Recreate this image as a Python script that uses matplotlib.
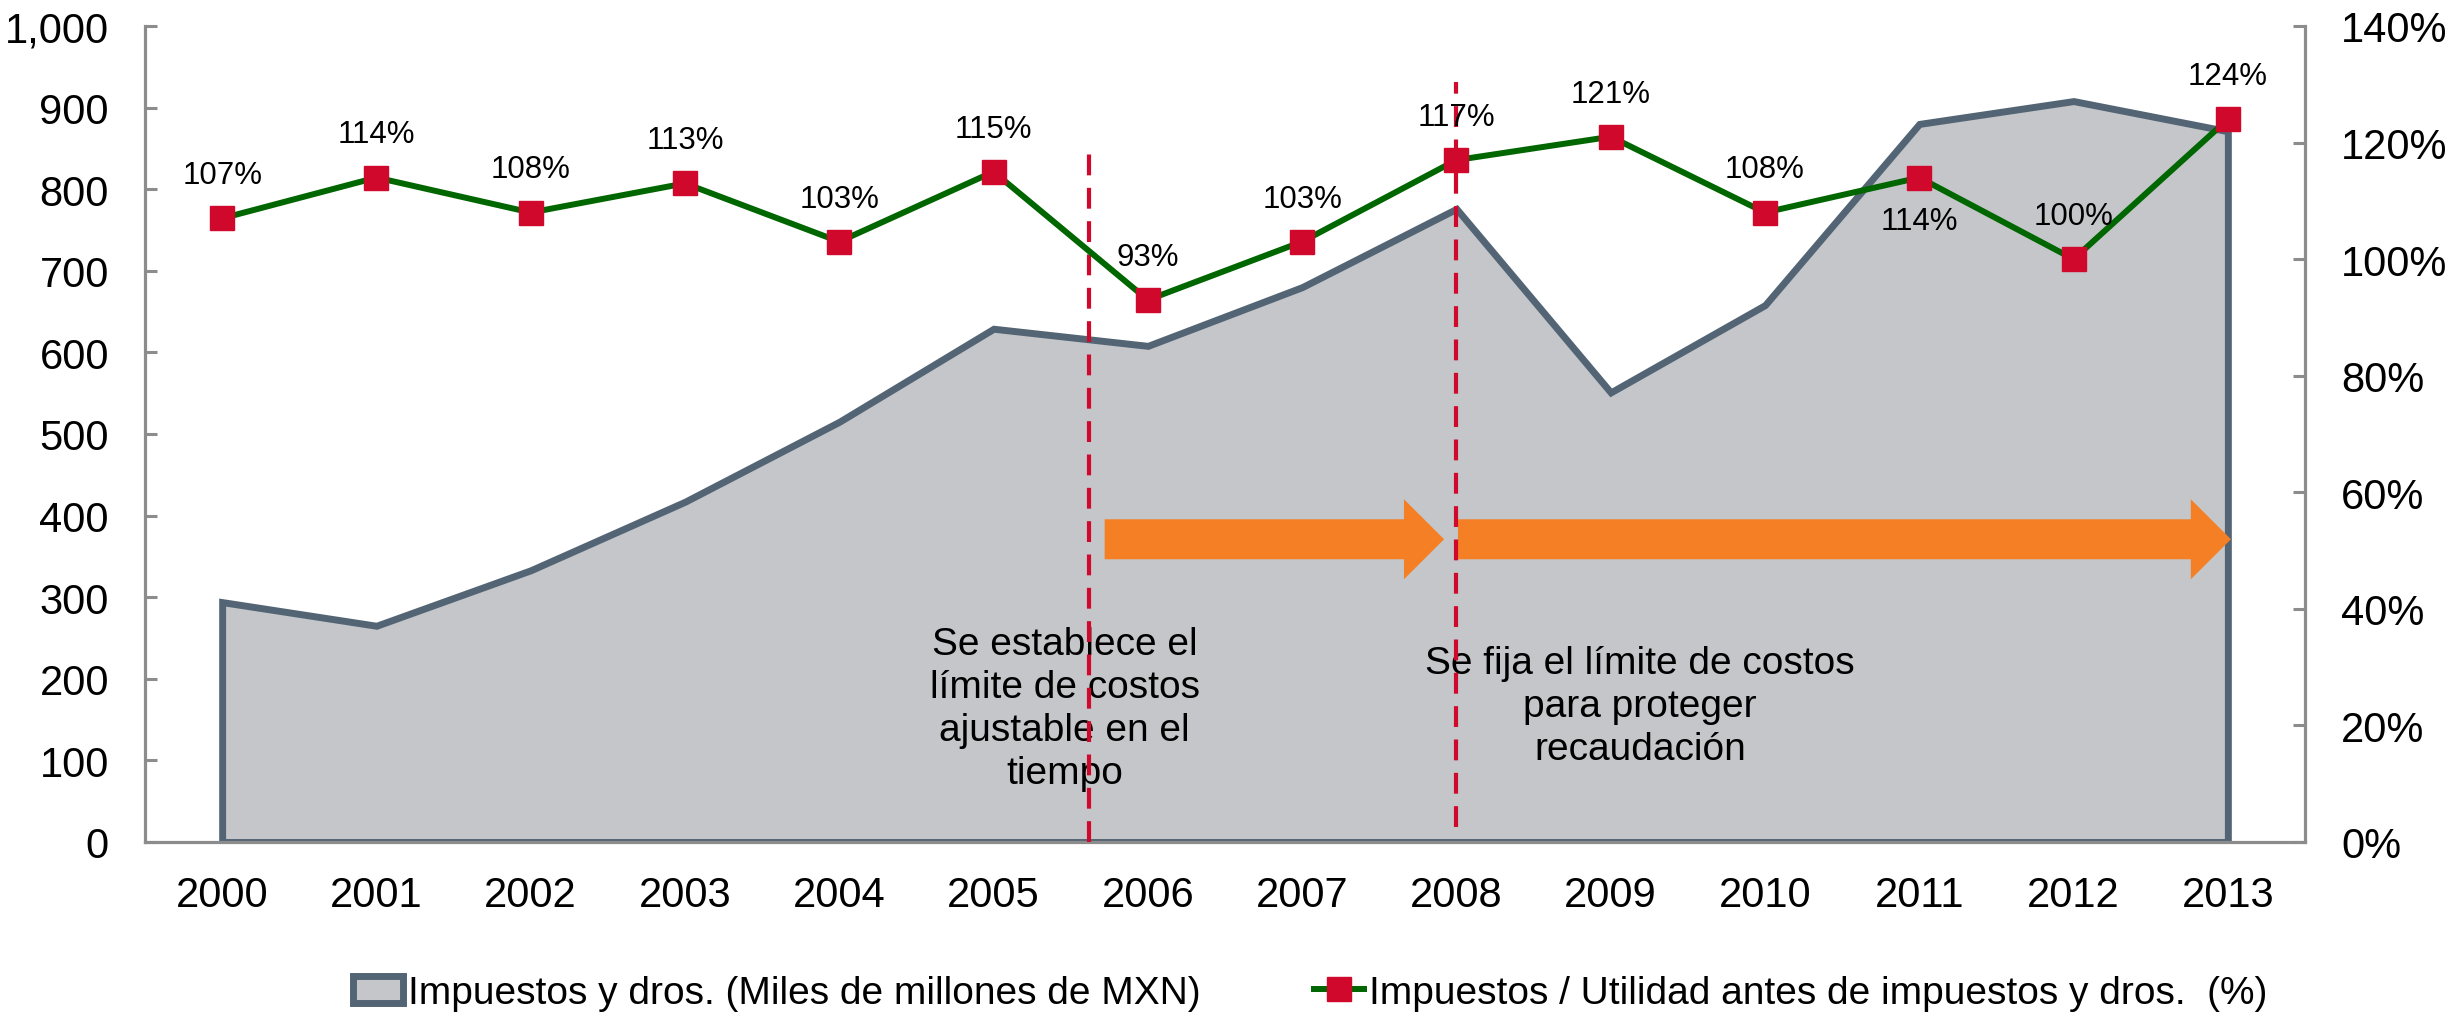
import numpy as np
import matplotlib
matplotlib.use("Agg")
import matplotlib.pyplot as plt
from matplotlib.patches import Patch, FancyArrow
from matplotlib.lines import Line2D
from matplotlib.ticker import FuncFormatter, FixedLocator

plt.rcParams["font.family"] = ["Liberation Sans", "DejaVu Sans"]

# data
years = ["2000", "2001", "2002", "2003", "2004", "2005", "2006",
         "2007", "2008", "2009", "2010", "2011", "2012", "2013"]
impuestos = [294, 265, 333, 417, 515, 629, 608, 680, 776, 551, 658, 880, 908, 871]
ratio = [107, 114, 108, 113, 103, 115, 93, 103, 117, 121, 108, 114, 100, 124]
label_below = ["2011"]

area_label = "Impuestos y dros. (Miles de millones de MXN)"
line_label = "Impuestos / Utilidad antes de impuestos y dros.  (%)"
note1 = "Se establece el\nlímite de costos\najustable en el\ntiempo"
note2 = "Se fija el límite de costos\npara proteger\nrecaudación"

fill_c = "#C4C6CA"
edge_c = "#536574"
green = "#006600"
red = "#D0092C"
orange = "#F47F24"
axis_c = "#8C8C8C"

x = np.arange(len(years))

fig = plt.figure(figsize=(24.5, 10.2), dpi=100)
ax = fig.add_axes([145 / 2450, 177 / 1020, 2160 / 2450, 816 / 1020])
ax2 = ax.twinx()

# area series
ax.fill_between(x, impuestos, 0, facecolor=fill_c, edgecolor=edge_c,
                linewidth=5, joinstyle="miter", zorder=2)

# arrows and annotation text
ax.add_patch(FancyArrow(5.72, 371, 2.2, 0, width=49, head_width=98,
                        head_length=0.26, length_includes_head=True,
                        color=orange, linewidth=0, zorder=3))
ax.add_patch(FancyArrow(8.01, 371, 5.01, 0, width=49, head_width=98,
                        head_length=0.26, length_includes_head=True,
                        color=orange, linewidth=0, zorder=3))
ax.text(5.46, 163, note1, ha="center", va="center", fontsize=28,
        linespacing=1.25, zorder=4)
ax.text(9.19, 167, note2, ha="center", va="center", fontsize=28,
        linespacing=1.25, zorder=4)

# vertical dashed markers
ax.plot([5.62, 5.62], [0, 847], color=red, linewidth=3,
        dashes=(5, 3), zorder=5)
ax.plot([8.0, 8.0], [18, 931], color=red, linewidth=3,
        dashes=(5, 3), zorder=5)

ax.set_xlim(-0.5, 13.5)
ax.set_ylim(0, 1000)
ax2.set_ylim(0, 140)

# ratio line on the secondary axis
ax2.plot(x, ratio, color=green, linewidth=4.3, marker="s", markersize=17.5,
         markerfacecolor=red, markeredgecolor=red, zorder=6)
for xi, yr, v in zip(x, years, ratio):
    off = -31 if yr in label_below else 31
    ax2.annotate(f"{v}%", (xi, v), xytext=(0, off), textcoords="offset points",
                 ha="center", va="center", fontsize=22.5, zorder=7)

# axes styling
ax.set_yticks(np.arange(0, 1001, 100))
ax.yaxis.set_major_formatter(FuncFormatter(lambda v, p: f"{int(v):,}"))
ax2.set_yticks(np.arange(0, 141, 20))
ax2.yaxis.set_major_formatter(FuncFormatter(lambda v, p: f"{int(v)}%"))
ax.set_xticks(x)
ax.set_xticklabels(years)
ax.xaxis.set_minor_locator(FixedLocator(np.arange(0.5, 13, 1)))

ax.tick_params(axis="x", which="major", length=0, pad=24, labelsize=30)
ax.tick_params(axis="x", which="minor", direction="in", length=8.5,
               width=2.2, color=axis_c)
ax.tick_params(axis="y", direction="in", length=8.5, width=2.2,
               color=axis_c, pad=26, labelsize=30)
ax2.tick_params(axis="y", direction="in", length=8.5, width=2.2,
                color=axis_c, pad=26, labelsize=30)

for a in (ax, ax2):
    a.spines["top"].set_visible(False)
    for s in ("left", "right", "bottom"):
        a.spines[s].set_color(axis_c)
        a.spines[s].set_linewidth(2.3)
ax.spines["right"].set_visible(False)
ax2.spines["left"].set_visible(False)
ax2.spines["bottom"].set_visible(False)

ax.set_zorder(1)
ax2.set_zorder(2)
ax2.patch.set_visible(False)

handles = [
    Patch(facecolor=fill_c, edgecolor=edge_c, linewidth=5, label=area_label),
    Line2D([], [], color=green, linewidth=4.3, marker="s", markersize=17.5,
           markerfacecolor=red, markeredgecolor=red, label=line_label),
]
fig.legend(handles=handles, loc="center", bbox_to_anchor=(0.5347, 0.0255),
           ncol=2, frameon=False, fontsize=28, handlelength=1.3,
           handletextpad=0.12, columnspacing=2.9, borderaxespad=0)

fig.savefig("out.png", dpi=100)
